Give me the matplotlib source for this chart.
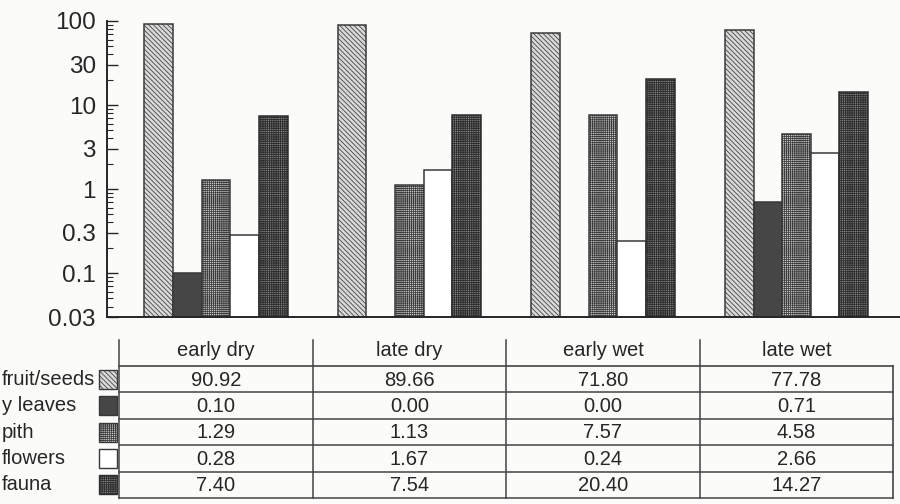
import numpy as np
import matplotlib.pyplot as plt
from matplotlib.patches import Rectangle
from matplotlib.ticker import FixedLocator, NullFormatter

plt.rcParams['font.family'] = ['Liberation Sans', 'DejaVu Sans']
plt.rcParams['hatch.linewidth'] = 0.55

# diet composition (% of feeding records) per season
seasons = ['early dry', 'late dry', 'early wet', 'late wet']
foods = ['fruit/seeds', 'y leaves', 'pith', 'flowers', 'fauna']
fruit_seeds = [90.92, 89.66, 71.80, 77.78]
y_leaves = [0.10, 0.00, 0.00, 0.71]
pith = [1.29, 1.13, 7.57, 4.58]
flowers = [0.28, 1.67, 0.24, 2.66]
fauna = [7.40, 7.54, 20.40, 14.27]
ytick_vals = [0.03, 0.1, 0.3, 1, 3, 10, 30, 100]
ytick_labels = ['0.03', '0.1', '0.3', '1', '3', '10', '30', '100']

series = [fruit_seeds, y_leaves, pith, flowers, fauna]
# fill, hatch, edge for each food type
styles = [('#d8d8d8', '\\\\\\\\\\\\\\', '#3a3a3a'),
          ('#464646', None, '#383838'),
          ('#c8c8c8', '++++++++', '#3a3a3a'),
          ('white', None, '#383838'),
          ('#8a8a8a', '+++++++++', '#2e2e2e')]

ink = '#262626'
paper = '#fbfbf9'

fig = plt.figure(figsize=(9, 5.04), dpi=100, facecolor=paper)
ax = fig.add_axes([107/900, 1 - 317/504, 793/900, (317 - 21)/504])
ax.set_facecolor(paper)

x = np.arange(len(seasons))
w = 0.148
for j, vals in enumerate(series):
    vals = np.array(vals, dtype=float)
    vals[vals <= 0] = np.nan  # nothing to draw on a log axis
    fc, hatch, ec = styles[j]
    ax.bar(x + (j - 2) * w, vals, width=w, facecolor=fc, edgecolor=ec,
           hatch=hatch, linewidth=1.1)

ax.set_yscale('log')
ax.set_ylim(0.03, 100)
xlo, xhi = -0.563, 3.535
ax.set_xlim(xlo, xhi)

ax.yaxis.set_major_locator(FixedLocator(ytick_vals))
ax.set_yticklabels(ytick_labels)
minors = []
for dec in [0.01, 0.1, 1, 10]:
    for s in range(2, 10):
        v = s * dec
        if 0.03 < v < 100 and not np.isclose(v, ytick_vals).any():
            minors.append(v)
ax.yaxis.set_minor_locator(FixedLocator(minors))
ax.yaxis.set_minor_formatter(NullFormatter())
ax.tick_params(axis='y', which='major', direction='in', length=8, width=1.0,
               labelsize=17.5, pad=8, colors=ink)
ax.tick_params(axis='y', which='minor', direction='in', length=4, width=0.8, colors=ink)
ax.set_xticks([])
for side in ['top', 'right']:
    ax.spines[side].set_visible(False)
for side in ['left', 'bottom']:
    ax.spines[side].set_color(ink)
    ax.spines[side].set_linewidth(1.4)

# data table under the bars, y in pixel rows
tax = fig.add_axes([107/900, 0, 793/900, 170/504])
tax.set_xlim(xlo, xhi)
tax.set_ylim(504, 334)
tax.axis('off')

line_c = '#444444'
top = 366
rh = 26.4
bottom = top + rh * len(foods)
tax.plot([-0.5, 3.5], [top, top], color=line_c, lw=1.2)
for r in range(1, len(foods) + 1):
    tax.plot([-0.5, 3.5], [top + r * rh] * 2, color=line_c, lw=1.1)
for k in range(len(seasons)):
    tax.plot([k - 0.5] * 2, [340, bottom], color=line_c, lw=1.1)
tax.plot([3.5, 3.5], [top, bottom], color=line_c, lw=1.2)

for k, s in enumerate(seasons):
    tax.text(k, 351, s, ha='center', va='center', fontsize=14.5, color=ink)

for r, name in enumerate(foods):
    yc = top + rh * (r + 0.5)
    fig.text(2/900, 1 - yc/504, name, ha='left', va='center', fontsize=14.5, color=ink)
    fc, hatch, ec = styles[r]
    tax.add_patch(Rectangle((-0.605, yc + 9.5), 0.095, -19, facecolor=fc, edgecolor=ec,
                            hatch=hatch, linewidth=1.0, clip_on=False))
    for k in range(len(seasons)):
        tax.text(k, yc + 1, f'{series[r][k]:.2f}', ha='center', va='center',
                 fontsize=14.5, color=ink)

fig.savefig('out.png', dpi=100, facecolor=paper)
